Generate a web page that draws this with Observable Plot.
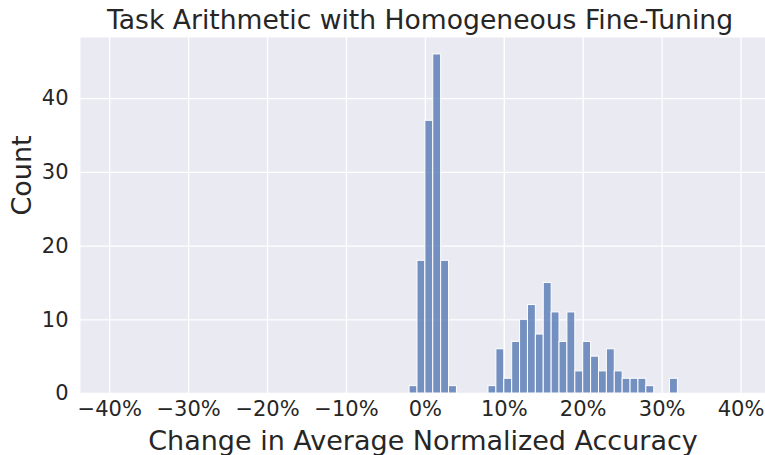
<!DOCTYPE html>
<html><head><meta charset="utf-8">
<script src="https://cdn.jsdelivr.net/npm/d3@7"></script>
<script src="https://cdn.jsdelivr.net/npm/@observablehq/plot@0.6"></script>
<style>
body{margin:0;background:#fff;}
svg{font-family:"DejaVu Sans",sans-serif;}
</style></head>
<body><div id="chart"></div>
<script>
const binStart = [-2,-1,0,1,2,3,4,5,6,7,8,9,10,11,12,13,14,15,16,17,18,19,20,21,22,23,24,25,26,27,28,29,30,31];
const binCount = [1,18,37,46,18,1,0,0,0,0,1,6,2,7,10,12,8,15,11,7,11,3,7,5,3,6,3,2,2,2,1,0,0,2];
const binWidth = 1;
const xTicks = [-40,-30,-20,-10,0,10,20,30,40];
const yTicks = [0,10,20,30,40];
const title = "Task Arithmetic with Homogeneous Fine-Tuning";
const xLabel = "Change in Average Normalized Accuracy";
const yLabel = "Count";

const bins = binStart.map((s,i)=>({x1:s, x2:s+binWidth, y:binCount[i]})).filter(d=>d.y>0);
const fmt = d => (d<0?"\u2212":"") + Math.abs(d) + "%";

const plot = Plot.plot({
  width: 765, height: 455,
  marginTop: 37, marginLeft: 80, marginRight: 0, marginBottom: 62,
  style: {fontFamily: "DejaVu Sans, sans-serif", background: "#fff", color: "#262626"},
  x: {domain: [-43.7, 43.1]},
  y: {domain: [0, 48.3]},
  marks: [
    Plot.frame({fill: "#EAEAF2", stroke: null}),
    Plot.gridX(xTicks, {stroke: "white", strokeOpacity: 1, strokeWidth: 1.3}),
    Plot.gridY(yTicks, {stroke: "white", strokeOpacity: 1, strokeWidth: 1.3}),
    Plot.rectY(bins, {x1: "x1", x2: "x2", y: "y", fill: "#4C72B0", fillOpacity: 0.75, stroke: "white", strokeWidth: 1, inset: 0}),
    Plot.axisX(xTicks, {tickSize: 0, tickPadding: 8, fontSize: 21, tickFormat: fmt, label: null, fill: "#262626"}),
    Plot.axisY(yTicks, {tickSize: 0, tickPadding: 12, fontSize: 21, label: null, fill: "#262626"}),
    Plot.text([xLabel], {frameAnchor: "bottom", dy: 56, fontSize: 27, fill: "#262626"}),
    Plot.text([yLabel], {frameAnchor: "left", dx: -58, rotate: -90, fontSize: 27, fill: "#262626"}),
    Plot.text([title], {frameAnchor: "top", dy: -27, dx: -3, fontSize: 26.6, fill: "#262626"})
  ]
});
document.getElementById("chart").appendChild(plot);
</script></body></html>
